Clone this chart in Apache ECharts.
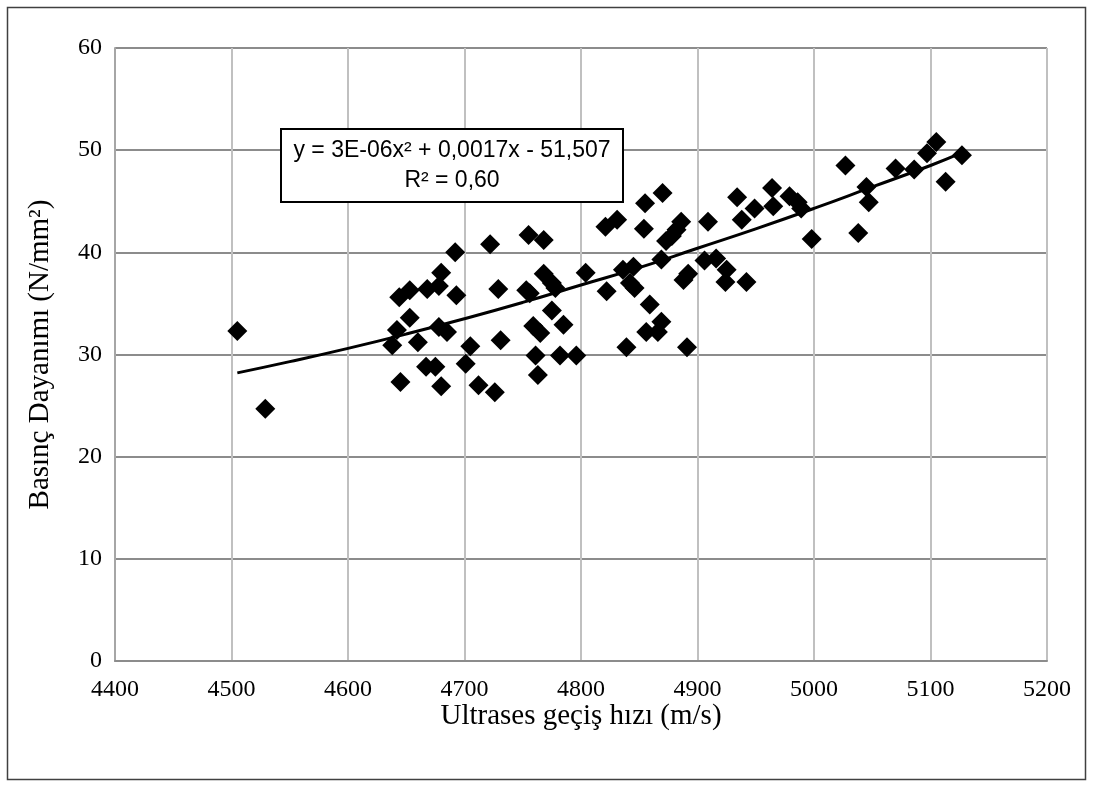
<!DOCTYPE html>
<html>
<head>
<meta charset="utf-8">
<script src="https://cdn.jsdelivr.net/npm/echarts@6/dist/echarts.min.js"></script>
<style>
  html, body { margin: 0; padding: 0; background: #fff; }
  #grafik { width: 1093px; height: 787px; }
</style>
</head>
<body>
<div id="grafik"></div>
<script>
// Ultrases geçiş hızı (m/s) - ölçüm noktaları
const hiz = [
  4505, 4529, 4692, 4722, 4755, 4768, 4680, 4644, 4653, 4668,
  4678, 4693, 4729, 4753, 4756, 4768, 4775, 4778, 4804, 4822,
  4653, 4642, 4638, 4660, 4678, 4685, 4705, 4731, 4759, 4765,
  4775, 4785, 4667, 4675, 4645, 4680, 4701, 4712, 4726, 4761,
  4763, 4782, 4796, 4821, 4831, 4854, 4886, 4882, 4878, 4873,
  4909, 4869, 4836, 4845, 4842, 4846, 4859, 4869, 4856, 4866,
  4839, 4891, 4892, 4888, 4906, 4916, 4925, 4924, 4942, 4855,
  4870, 4934, 4949, 4938, 4964, 4965, 4979, 4986, 4989, 4998,
  5027, 5070, 5086, 5097, 5105, 5127, 5113, 5045, 5047, 5038
];
// Basınç dayanımı (N/mm²)
const dayanim = [
  32.3, 24.7, 40.0, 40.8, 41.7, 41.2, 38.0, 35.6, 36.3, 36.4,
  36.7, 35.8, 36.4, 36.3, 36.0, 37.9, 37.0, 36.5, 38.0, 36.2,
  33.6, 32.4, 30.9, 31.2, 32.7, 32.2, 30.8, 31.4, 32.8, 32.1,
  34.3, 32.9, 28.8, 28.8, 27.3, 26.9, 29.1, 27.0, 26.3, 29.9,
  28.0, 29.9, 29.9, 42.5, 43.2, 42.3, 43.0, 42.2, 41.6, 41.1,
  43.0, 39.3, 38.3, 38.6, 37.0, 36.5, 34.9, 33.2, 32.2, 32.2,
  30.7, 30.7, 37.9, 37.3, 39.2, 39.4, 38.3, 37.1, 37.1, 44.8,
  45.8, 45.4, 44.3, 43.2, 46.3, 44.5, 45.5, 44.9, 44.3, 41.3,
  48.5, 48.2, 48.1, 49.7, 50.8, 49.5, 46.9, 46.4, 44.9, 41.9
];

// Eğilim çizgisi (grafikten okunan noktalar)
const trendHiz = [4505, 4550, 4600, 4650, 4700, 4750, 4800, 4850, 4900, 4950, 5000, 5050, 5100, 5128];
const trendDayanim = [28.2, 29.3, 30.6, 32.0, 33.5, 35.1, 36.8, 38.5, 40.4, 42.3, 44.3, 46.4, 48.5, 49.8];

const denklem = 'y = 3E-06x² + 0,0017x - 51,507';
const rKare = 'R² = 0,60';

const noktalar = hiz.map(function (v, i) { return [v, dayanim[i]]; });
const trend = trendHiz.map(function (v, i) { return [v, trendDayanim[i]]; });

const grafik = echarts.init(document.getElementById('grafik'));
const serif = 'Liberation Serif';

grafik.setOption({
  backgroundColor: '#fff',
  animation: false,
  grid: { left: 115, right: 46, top: 48, bottom: 126 },
  xAxis: {
    type: 'value',
    min: 4400,
    max: 5200,
    interval: 100,
    name: 'Ultrases geçiş hızı (m/s)',
    nameLocation: 'middle',
    nameGap: 41,
    nameMoveOverlap: false,
    nameTextStyle: { fontFamily: serif, fontSize: 29, color: '#000' },
    axisLine: { show: true, lineStyle: { color: '#8c8c8c', width: 2 } },
    axisTick: { show: false },
    axisLabel: {
      fontFamily: serif, fontSize: 24, color: '#000', margin: 17,
      formatter: function (v) { return String(v); }
    },
    splitLine: { show: true, lineStyle: { color: '#c0c0c0', width: 2 } }
  },
  yAxis: {
    type: 'value',
    min: 0,
    max: 60,
    interval: 10,
    name: 'Basınç Dayanımı (N/mm²)',
    nameLocation: 'middle',
    nameGap: 60,
    nameTextStyle: { fontFamily: serif, fontSize: 29, color: '#000' },
    axisLine: { show: true, lineStyle: { color: '#a6a6a6', width: 2 } },
    axisTick: { show: false },
    axisLabel: { fontFamily: serif, fontSize: 24, color: '#000', margin: 13 },
    splitLine: { show: true, lineStyle: { color: '#8c8c8c', width: 2 } }
  },
  series: [
    {
      type: 'scatter',
      data: noktalar,
      symbol: 'diamond',
      symbolSize: 20,
      itemStyle: { color: '#000', opacity: 1 },
      z: 3
    },
    {
      type: 'line',
      data: trend,
      smooth: true,
      showSymbol: false,
      lineStyle: { color: '#000', width: 3 },
      z: 4
    }
  ],
  graphic: [
    {
      type: 'rect',
      shape: { x: 7.5, y: 7.5, width: 1078, height: 772 },
      style: { fill: 'none', stroke: '#404040', lineWidth: 1.5 },
      silent: true
    },
    {
      type: 'rect',
      z: 100,
      shape: { x: 281, y: 129, width: 342, height: 73 },
      style: { fill: '#fff', stroke: '#000', lineWidth: 2 }
    },
    {
      type: 'text',
      z: 101,
      x: 452,
      y: 151,
      style: {
        text: denklem,
        fontFamily: 'Liberation Sans',
        fontSize: 23,
        fill: '#000',
        align: 'center',
        verticalAlign: 'middle'
      }
    },
    {
      type: 'text',
      z: 101,
      x: 452,
      y: 181,
      style: {
        text: rKare,
        fontFamily: 'Liberation Sans',
        fontSize: 23,
        fill: '#000',
        align: 'center',
        verticalAlign: 'middle'
      }
    }
  ]
});
</script>
</body>
</html>
